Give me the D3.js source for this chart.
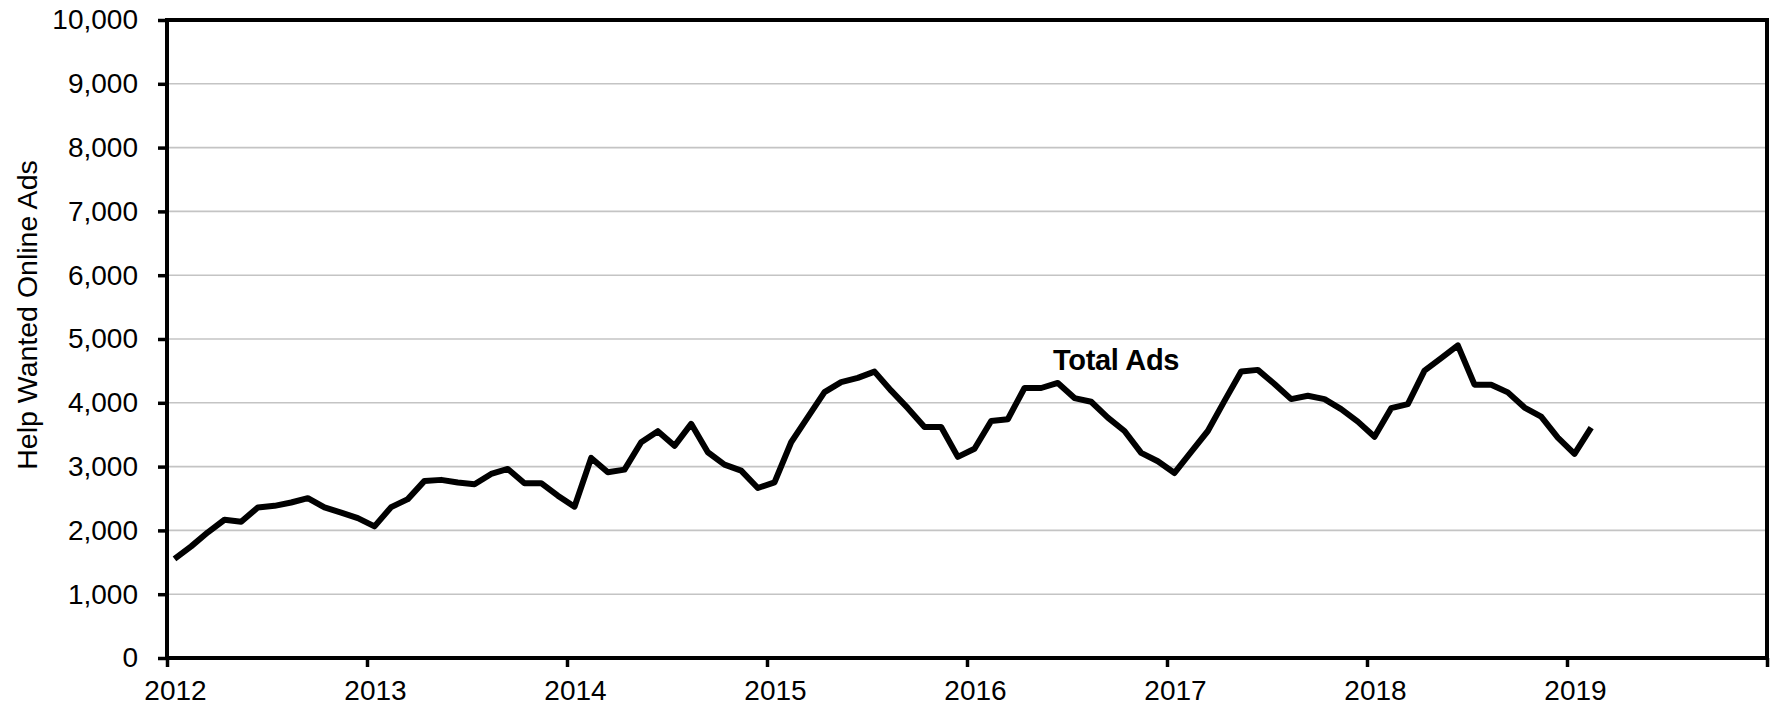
<!DOCTYPE html>
<html>
<head>
<meta charset="utf-8">
<script src="https://cdn.jsdelivr.net/npm/d3@7"></script>
<style>
  body { margin: 0; background: #fff; }
  text { font-family: "Liberation Sans", Arial, sans-serif; fill: #000; }
</style>
</head>
<body>
<div id="chart"></div>
<script>
// monthly help wanted online ads, Jan 2012 - Feb 2019
const startYear = 2012;
const totalAds = [
  1552, 1750, 1970, 2167, 2135, 2360, 2385, 2437, 2505, 2360, 2280, 2193,
  2063, 2365, 2490, 2776, 2792, 2750, 2724, 2885, 2963, 2740, 2740, 2545,
  2372, 3136, 2911, 2953, 3382, 3555, 3325, 3670, 3225, 3031, 2937, 2665,
  2754, 3382, 3775, 4167, 4325, 4390, 4489, 4190, 3916, 3621, 3621, 3153,
  3279, 3716, 3742, 4232, 4232, 4311, 4074, 4016, 3768, 3558, 3216, 3084,
  2900, 3232, 3558, 4030, 4489, 4516, 4295, 4058, 4110, 4058, 3900, 3705,
  3468, 3916, 3979, 4505, 4700, 4900, 4284, 4284, 4163, 3926, 3784, 3453,
  3200, 3610
];
const yearTicks = [2012, 2013, 2014, 2015, 2016, 2017, 2018, 2019, 2020];
const yTicks = [0, 1000, 2000, 3000, 4000, 5000, 6000, 7000, 8000, 9000, 10000];
const seriesLabel = "Total Ads";
const yTitle = "Help Wanted Online Ads";

const W = 1781, H = 706;
const margin = { top: 20, right: 14, bottom: 48, left: 167 };
const width = W - margin.left - margin.right;
const height = H - margin.top - margin.bottom;

const svg = d3.select("#chart").append("svg")
  .attr("width", W)
  .attr("height", H);

const g = svg.append("g")
  .attr("transform", `translate(${margin.left},${margin.top})`);

const x = d3.scaleLinear().domain([2012, 2020]).range([0, width]);
const y = d3.scaleLinear().domain([0, 10000]).range([height, 0]);

// gridlines
g.append("g")
  .selectAll("line")
  .data(yTicks.filter((d) => d > 0 && d < 10000))
  .enter()
  .append("line")
  .attr("x1", 0)
  .attr("x2", width)
  .attr("y1", (d) => y(d))
  .attr("y2", (d) => y(d))
  .attr("stroke", "#c4c4c4")
  .attr("stroke-width", 1.6);

// y axis
const yAxis = g.append("g")
  .call(d3.axisLeft(y).tickValues(yTicks).tickSize(9).tickPadding(20).tickFormat(d3.format(",")));
yAxis.select(".domain").remove();
yAxis.selectAll("line").attr("stroke", "#000").attr("stroke-width", 3.5);
yAxis.selectAll("text").style("font-size", "28px");

// x axis
const xAxis = g.append("g")
  .attr("transform", `translate(0,${height})`)
  .call(d3.axisBottom(x).tickValues(yearTicks).tickSize(9).tickPadding(13).tickFormat((d) => d));
xAxis.select(".domain").remove();
xAxis.selectAll("line").attr("stroke", "#000").attr("stroke-width", 3.5);
xAxis.selectAll("text")
  .style("font-size", "28px")
  .attr("dx", 8)
  .text((d) => (d === 2020 ? "" : d));

// frame
g.append("rect")
  .attr("x", 0)
  .attr("y", 0)
  .attr("width", width)
  .attr("height", height)
  .attr("fill", "none")
  .attr("stroke", "#000")
  .attr("stroke-width", 4);

// line
const line = d3.line()
  .x((d, i) => x(startYear + (i + 0.45) / 12))
  .y((d) => y(d));

g.append("path")
  .datum(totalAds)
  .attr("fill", "none")
  .attr("stroke", "#000")
  .attr("stroke-width", 6)
  .attr("stroke-linejoin", "round")
  .attr("d", line);

// series label
g.append("text")
  .attr("x", x(2016.43))
  .attr("y", y(4510))
  .style("font-size", "29px")
  .style("font-weight", "bold")
  .style("letter-spacing", "-0.3px")
  .text(seriesLabel);

// y title
svg.append("text")
  .attr("transform", `translate(37,315) rotate(-90)`)
  .attr("text-anchor", "middle")
  .style("font-size", "28.5px")
  .text(yTitle);
</script>
</body>
</html>
